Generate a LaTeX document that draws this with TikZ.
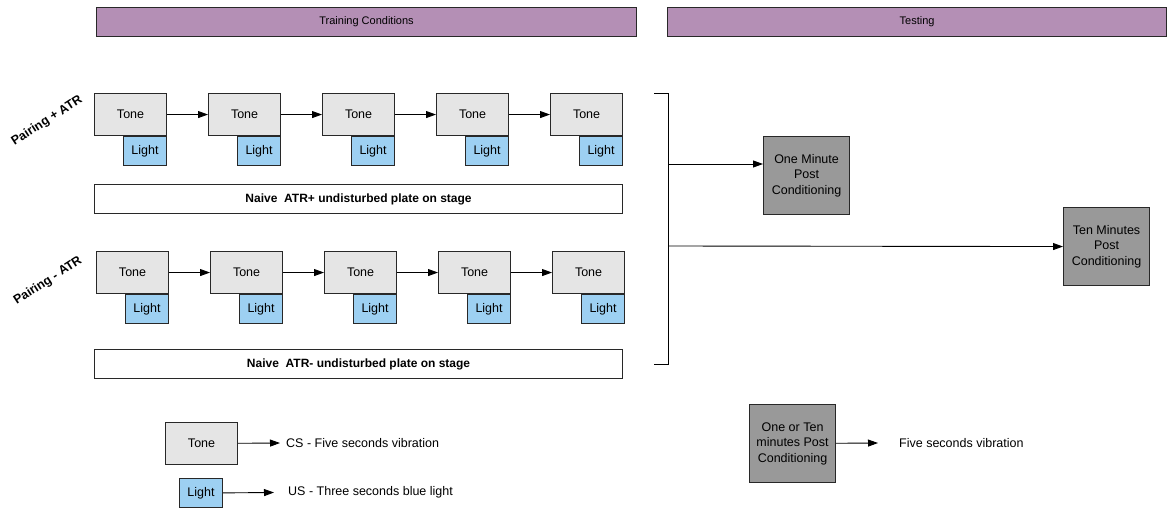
\documentclass[tikz,border=0pt]{standalone}
\usepackage{fontspec}
\setmainfont{Liberation Sans}
\usetikzlibrary{arrows.meta}
\definecolor{hdr}{RGB}{180,143,181}
\definecolor{tonegray}{RGB}{229,229,229}
\definecolor{lightblue}{RGB}{157,208,242}
\definecolor{darkgray}{RGB}{153,153,153}
\definecolor{edge}{RGB}{40,40,40}
\begin{document}
\begin{tikzpicture}[x=1pt,y=-1pt,
  font=\fontsize{12.5}{15.5}\selectfont,
  box/.style={draw=edge, line width=1.1pt, inner sep=0pt, align=center, anchor=north west},
  hdrbox/.style={box, fill=hdr, minimum height=29pt, font=\fontsize{11}{13}\selectfont},
  tonebox/.style={box, fill=tonegray, minimum width=72pt, minimum height=42pt},
  lightbox/.style={box, fill=lightblue, minimum width=43pt, minimum height=29pt},
  barbox/.style={box, fill=white, minimum width=528pt, minimum height=29pt, font=\fontsize{12}{14}\selectfont\bfseries},
  graybox/.style={box, fill=darkgray, minimum width=86pt, minimum height=78pt},
  lbl/.style={font=\fontsize{12.5}{15}\selectfont\bfseries, rotate=33},
  arr/.style={line width=0.9pt, -{Triangle[length=10pt,width=7pt]}},
  ln/.style={line width=0.9pt}
]
\useasboundingbox (0,0) rectangle (1172,508);

% headers
\node[hdrbox, minimum width=540pt] (htrain) at (96,7) {Training Conditions};
\node[hdrbox, minimum width=499pt] (htest) at (667,7) {Testing};

% row labels
\node[lbl] (lab1) at (47,121) {Pairing + ATR};
\node[lbl] (lab2) at (48,281) {Pairing - ATR};

% row 1
\foreach \i in {1,...,5} {
  \node[tonebox] (a\i) at ({94+114*(\i-1)},93) {Tone};
  \node[lightbox, anchor=north east] (al\i) at (a\i.south east) {Light};
}
\foreach \i/\j in {1/2,2/3,3/4,4/5} \draw[arr] (a\i) -- (a\j);
\node[barbox] (bar1) at (94,184) {Naive\ \ ATR+ undisturbed plate on stage};

% row 2
\foreach \i in {1,...,5} {
  \node[tonebox] (b\i) at ({96+114*(\i-1)},251) {Tone};
  \node[lightbox, anchor=north east] (bl\i) at (b\i.south east) {Light};
}
\foreach \i/\j in {1/2,2/3,3/4,4/5} \draw[arr] (b\i) -- (b\j);
\node[barbox] (bar2) at (94,349) {Naive\ \ ATR- undisturbed plate on stage};

% bracket
\coordinate (bt0) at (654,93);
\coordinate (bt) at (668,93);
\coordinate (bb) at (668,364);
\coordinate (bb0) at (654,364);
\draw[ln] (bt0) -- (bt) -- (bb) -- (bb0);
\coordinate (bm1) at (668,164);
\coordinate (bm2) at (668,246);

% testing boxes
\node[graybox] (one) at (763,136) {One Minute\\Post\\Conditioning};
\node[graybox] (ten) at (1063,207) {Ten Minutes\\Post\\Conditioning};
\draw[arr] (bm1) -- (bm1 -| one.west);
\draw[arr] (bm2) -- (ten.west);

% legend
\node[tonebox] (ltone) at (165,422) {Tone};
\coordinate (ltoneend) at (280,443);
\draw[arr] (ltone) -- (ltoneend);
\node[anchor=west, inner sep=0pt] (cs) at (286,443) {CS - Five seconds vibration};

\node[lightbox] (llight) at (179,478) {Light};
\coordinate (llightend) at (274,492.5);
\draw[arr] (llight) -- (llightend);
\node[anchor=west, inner sep=0pt] (us) at (288,492.5) {US - Three seconds blue light};

\node[graybox] (lgray) at (749,404) {One or Ten\\minutes Post\\Conditioning};
\coordinate (lgrayend) at (878,443);
\draw[arr] (lgray) -- (lgrayend);
\node[anchor=west, inner sep=0pt] (fsv) at (899,443) {Five seconds vibration};
\end{tikzpicture}
\end{document}
